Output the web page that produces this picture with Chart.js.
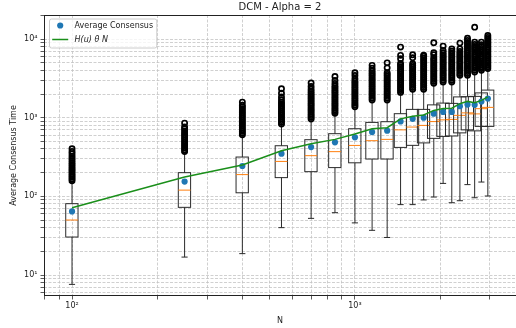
<!DOCTYPE html>
<html>
<head>
<meta charset="utf-8">
<title>DCM - Alpha = 2</title>
<script src="https://cdn.jsdelivr.net/npm/chart.js@4.4.1/dist/chart.umd.min.js"></script>
<style>
  html, body { margin: 0; padding: 0; background: #fff; }
  #wrap { position: relative; width: 516px; height: 328px; }
</style>
</head>
<body>
<div id="wrap"><canvas id="chart"></canvas></div>
<script>
// Consensus time vs network size, one box per N, log-log axes.

const N_VALUES = [100, 250, 400, 550, 700, 850, 1000, 1150, 1300, 1450, 1600, 1750, 1900, 2050, 2200, 2350, 2500, 2650, 2800, 2950];

// box statistics per N
const WHISKER_LO = [7.6, 16.9, 18.7, 40, 52.5, 62, 46, 37, 30, 78.5, 78.5, 90, 98, 146, 83, 88, 141, 96, 152, 101];
const Q1 = [30.4, 72.5, 111, 173, 206, 232, 267, 298, 298, 419, 445, 478, 546, 578, 585, 641, 700, 680, 775, 775];
const MEDIAN = [50, 120, 189, 278, 329, 370, 444, 510, 530, 700, 760, 798, 892, 938, 951, 1070, 1151, 1117, 1301, 1352];
const Q3 = [80.7, 200, 316, 440, 525, 626, 724, 871, 889, 1124, 1275, 1275, 1455, 1533, 1520, 1837, 1848, 1866, 2066, 2243];
const WHISKER_HI = [150, 360, 590, 815, 945, 1120, 1355, 1650, 1650, 2070, 2280, 2280, 2720, 2820, 2820, 3440, 3440, 3790, 3980, 4190];

// mean of the runs and the H(u) theta N prediction
const MEAN_TIME = [64.4, 154, 243, 349, 423, 486, 562, 656, 684, 897, 966, 1000, 1124, 1185, 1185, 1400, 1467, 1455, 1602, 1748];
const THEORY = [71.8, 176, 251, 379, 467, 530, 619, 725, 746, 966, 1045, 1085, 1238, 1305, 1320, 1506, 1611, 1551, 1659, 1838];

// outliers above the upper whisker
const FLIERS = [
  [158, 166, 175, 184, 194, 205, 216, 228, 241, 255, 270, 287, 305, 325, 348, 372, 404],
  [372, 392, 413, 436, 460, 486, 513, 542, 573, 606, 641, 680, 722, 760, 853],
  [605, 638, 672, 708, 746, 787, 830, 876, 925, 977, 1032, 1090, 1152, 1218, 1290, 1370, 1440, 1578],
  [830, 875, 922, 972, 1025, 1081, 1140, 1202, 1268, 1338, 1412, 1490, 1570, 1690, 1830, 2050, 2334],
  [960, 1012, 1068, 1126, 1188, 1253, 1322, 1395, 1472, 1553, 1638, 1728, 1823, 1923, 2030, 2150, 2300, 2500, 2754],
  [1135, 1197, 1263, 1332, 1405, 1482, 1563, 1649, 1740, 1836, 1937, 2043, 2155, 2273, 2398, 2530, 2720, 2978, 3350],
  [1375, 1450, 1530, 1614, 1703, 1797, 1896, 2000, 2110, 2226, 2348, 2477, 2613, 2757, 2908, 3120, 3450, 3732],
  [1675, 1767, 1864, 1967, 2075, 2189, 2309, 2436, 2570, 2711, 2860, 3017, 3183, 3358, 3543, 3738, 3943, 4250, 4630],
  [1675, 1767, 1864, 1967, 2075, 2189, 2309, 2436, 2570, 2711, 2860, 3017, 3183, 3358, 3543, 3730, 4300, 4980],
  [2095, 2210, 2332, 2460, 2595, 2738, 2889, 3048, 3215, 3392, 3579, 3776, 3983, 4202, 4433, 4677, 4900, 5620, 6200, 7890],
  [2300, 2427, 2560, 2701, 2850, 3006, 3172, 3346, 3530, 3724, 3929, 4145, 4373, 4614, 4850, 5780, 6310],
  [2300, 2427, 2560, 2701, 2850, 3006, 3172, 3346, 3530, 3724, 3929, 4145, 4373, 4614, 4868, 5136, 5418, 5716, 6030, 6250],
  [2740, 2891, 3050, 3218, 3395, 3582, 3779, 3987, 4206, 4437, 4681, 4939, 5210, 5497, 5800, 6300, 6700, 8970],
  [2840, 2996, 3161, 3335, 3518, 3712, 3916, 4131, 4358, 4598, 4851, 5118, 5399, 5696, 6009, 6340, 6689, 7140, 8130],
  [2840, 2996, 3161, 3335, 3518, 3712, 3916, 4131, 4358, 4598, 4851, 5118, 5399, 5696, 6009, 6340, 6689, 7057, 7500],
  [3460, 3650, 3851, 4063, 4286, 4522, 4771, 5033, 5310, 5602, 5910, 6235, 6578, 6940, 7500, 8870],
  [3460, 3650, 3851, 4063, 4286, 4522, 4771, 5033, 5310, 5602, 5910, 6235, 6578, 6940, 7322, 7725, 8150, 8598, 9071, 9570, 10260],
  [3810, 4020, 4241, 4474, 4720, 4980, 5254, 5543, 5848, 6169, 6508, 6866, 7244, 7642, 8062, 8505, 9140, 14150],
  [4000, 4220, 4452, 4697, 4955, 5228, 5515, 5818, 6138, 6476, 6832, 7208, 7604, 8022, 8463, 9140],
  [4210, 4442, 4686, 4944, 5216, 5503, 5805, 6125, 6461, 6817, 7192, 7587, 8004, 8444, 8909, 9399, 9916, 10460, 11100],
];

const X_TICKS = [100, 1000];
const X_TICK_LABELS = ["10²", "10³"];
const Y_TICKS = [10, 100, 1000, 10000];
const Y_TICK_LABELS = ["10¹", "10²", "10³", "10⁴"];

const FONT = "'DejaVu Sans', 'Liberation Sans', sans-serif";
const TEXT = "#222";
const BLUE = "#1f77b4";
const ORANGE = "#ff7f0e";
const GREEN = "#1a8f1a";
const BOX_HALF = 0.05;   // box spans N*(1±0.05)
const CAP_HALF = 0.025;

// all 1..9 x 10^k positions inside the axis range
function logTicks(min, max) {
  const out = [];
  for (let e = Math.floor(Math.log10(min)); e <= Math.ceil(Math.log10(max)); e++) {
    for (let m = 1; m < 10; m++) {
      const v = m * Math.pow(10, e);
      if (v >= min && v <= max) out.push({ value: v, major: m === 1 });
    }
  }
  return out;
}

function tickLabel(value, vals, labels) {
  const i = vals.findIndex((t) => Math.abs(t - value) / t < 1e-6);
  return i >= 0 ? labels[i] : "";
}

const flierPoints = [];
FLIERS.forEach((vals, i) => vals.forEach((v) => flierPoints.push({ x: N_VALUES[i], y: v })));

const boxPlugin = {
  id: "boxes",
  beforeDatasetsDraw(chart) {
    const { ctx, chartArea, scales: { x, y } } = chart;
    const seg = (x1, y1, x2, y2) => {
      ctx.beginPath();
      ctx.moveTo(x1, y1);
      ctx.lineTo(x2, y2);
      ctx.stroke();
    };
    ctx.save();
    ctx.beginPath();
    ctx.rect(chartArea.left, chartArea.top, chartArea.right - chartArea.left, chartArea.bottom - chartArea.top);
    ctx.clip();
    ctx.lineWidth = 1;
    N_VALUES.forEach((n, i) => {
      const xc = x.getPixelForValue(n);
      const xl = x.getPixelForValue(n * (1 - BOX_HALF));
      const xr = x.getPixelForValue(n * (1 + BOX_HALF));
      const cl = x.getPixelForValue(n * (1 - CAP_HALF));
      const cr = x.getPixelForValue(n * (1 + CAP_HALF));
      const yLo = y.getPixelForValue(WHISKER_LO[i]);
      const yQ1 = y.getPixelForValue(Q1[i]);
      const yMed = y.getPixelForValue(MEDIAN[i]);
      const yQ3 = y.getPixelForValue(Q3[i]);
      const yHi = y.getPixelForValue(WHISKER_HI[i]);
      ctx.strokeStyle = "#2a2a2a";
      seg(xc, yQ1, xc, yLo);
      seg(xc, yQ3, xc, yHi);
      seg(cl, yLo, cr, yLo);
      seg(cl, yHi, cr, yHi);
      ctx.strokeRect(xl, yQ3, xr - xl, yQ1 - yQ3);
      ctx.strokeStyle = ORANGE;
      seg(xl, yMed, xr, yMed);
    });
    ctx.restore();
  },
};

const framePlugin = {
  id: "frameAndLegend",
  afterDraw(chart) {
    const { ctx, chartArea: a } = chart;
    ctx.save();
    ctx.strokeStyle = "#222";
    ctx.lineWidth = 1;
    ctx.strokeRect(a.left + 0.5, a.top + 0.5, a.right - a.left, a.bottom - a.top - 1);

    // legend box in the upper-left corner
    const fs = 8;
    const pad = 3.2, handle = 16, gap = 6.4;
    const [meanSet, theorySet] = [chart.data.datasets[1], chart.data.datasets[0]];
    ctx.font = `${fs}px ${FONT}`;
    const w1 = ctx.measureText(meanSet.label).width;
    ctx.font = `italic ${fs}px ${FONT}`;
    const w2 = ctx.measureText(theorySet.label).width;
    const bx = a.left + 5, by = a.top + 3.5;
    const bw = pad * 2 + handle + gap + Math.max(w1, w2);
    const bh = 29;
    ctx.beginPath();
    ctx.roundRect(bx + 0.5, by + 0.5, bw, bh, 2);
    ctx.fillStyle = "rgba(255,255,255,0.8)";
    ctx.fill();
    ctx.strokeStyle = "#cccccc";
    ctx.stroke();

    const hx = bx + pad;
    const r1 = by + 7, r2 = by + 21;
    ctx.fillStyle = BLUE;
    ctx.beginPath();
    ctx.arc(hx + handle / 2, r1, 3.1, 0, Math.PI * 2);
    ctx.fill();
    ctx.strokeStyle = GREEN;
    ctx.lineWidth = 1.5;
    ctx.beginPath();
    ctx.moveTo(hx, r2);
    ctx.lineTo(hx + handle, r2);
    ctx.stroke();

    ctx.fillStyle = TEXT;
    ctx.textBaseline = "middle";
    ctx.textAlign = "left";
    ctx.font = `${fs}px ${FONT}`;
    ctx.fillText(meanSet.label, hx + handle + gap, r1);
    ctx.font = `italic ${fs}px ${FONT}`;
    ctx.fillText(theorySet.label, hx + handle + gap, r2);
    ctx.restore();
  },
};

function axisCommon(ticks, labels, size) {
  return {
    type: "logarithmic",
    bounds: "data",
    afterBuildTicks: (scale) => { scale.ticks = logTicks(scale.min, scale.max); },
    ticks: {
      autoSkip: false,
      maxRotation: 0,
      color: TEXT,
      font: { family: FONT, size: 8 },
      callback: (v) => tickLabel(v, ticks, labels),
    },
    grid: {
      color: "#c4c4c4",
      lineWidth: 0.8,
      tickLength: 3.5,
      tickColor: "#333",
      tickWidth: 0.8,
      tickBorderDash: [],
    },
    border: { display: false, dash: [3, 1.5] },
    afterFit: (s) => {
      size(s);
      s.paddingLeft = 0;
      s.paddingRight = 0;
      s.paddingTop = 0;
      s.paddingBottom = 0;
    },
  };
}

const xAxis = axisCommon(X_TICKS, X_TICK_LABELS, (s) => { s.height = 32; });
xAxis.min = 79.6;
xAxis.max = 3710;
xAxis.ticks.padding = 2;
xAxis.title = { display: true, text: "N", color: TEXT, font: { family: FONT, size: 8 }, padding: { top: 0, bottom: 2.2 } };

const yAxis = axisCommon(Y_TICKS, Y_TICK_LABELS, (s) => { s.width = 44; });
yAxis.min = 5.41;
yAxis.max = 20200;
yAxis.ticks.padding = 3;
yAxis.title = { display: true, text: "Average Consensus Time", color: TEXT, font: { family: FONT, size: 8 }, padding: { top: 9.2, bottom: 0 } };

new Chart(document.getElementById("chart"), {
  type: "scatter",
  data: {
    datasets: [
      {
        label: "H(u) θ N",
        data: N_VALUES.map((n, i) => ({ x: n, y: THEORY[i] })),
        showLine: true,
        borderColor: GREEN,
        borderWidth: 1.5,
        pointRadius: 0,
        pointHoverRadius: 0,
        tension: 0,
      },
      {
        label: "Average Consensus",
        data: N_VALUES.map((n, i) => ({ x: n, y: MEAN_TIME[i] })),
        backgroundColor: BLUE,
        borderWidth: 0,
        pointRadius: 3.1,
      },
      {
        label: "outliers",
        data: flierPoints,
        backgroundColor: "rgba(0,0,0,0)",
        borderColor: "#000",
        borderWidth: 1.7,
        pointRadius: 2.6,
      },
    ],
  },
  options: {
    responsive: true,
    maintainAspectRatio: false,
    animation: false,
    devicePixelRatio: 1,
    layout: { padding: 0, autoPadding: false },
    plugins: {
      legend: { display: false },
      tooltip: { enabled: false },
      title: {
        display: true,
        fullSize: false,
        text: "DCM - Alpha = 2",
        color: TEXT,
        font: { family: FONT, size: 10, weight: "normal" },
        padding: { top: 1, bottom: 2 },
      },
    },
    scales: { x: xAxis, y: yAxis },
  },
  plugins: [boxPlugin, framePlugin],
});
</script>
</body>
</html>
